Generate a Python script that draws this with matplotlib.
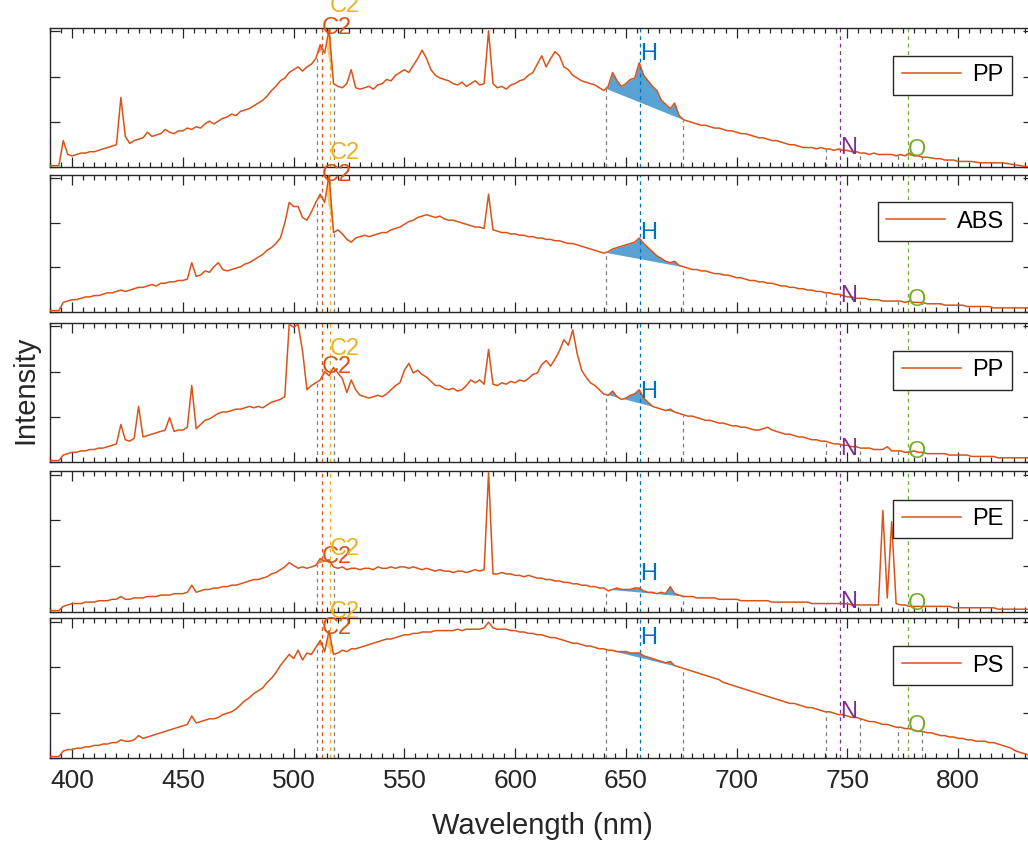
import numpy as np
import matplotlib.pyplot as plt
from matplotlib.ticker import MultipleLocator

plt.rcParams['font.family'] = ['Liberation Sans', 'DejaVu Sans']

# wavelength grid of the spectra (nm)
wavelength = np.arange(390, 834, 2)

# normalised intensities, one spectrum per panel (top to bottom)
spec_pp1 = [
    0.01, 0.01, 0.01, 0.19, 0.09, 0.08, 0.09, 0.10, 0.10, 0.11,
    0.11, 0.12, 0.13, 0.14, 0.15, 0.16, 0.50, 0.22, 0.17, 0.19,
    0.20, 0.21, 0.25, 0.22, 0.23, 0.24, 0.27, 0.25, 0.24, 0.26,
    0.26, 0.28, 0.27, 0.29, 0.28, 0.31, 0.33, 0.31, 0.33, 0.35,
    0.36, 0.38, 0.37, 0.40, 0.41, 0.42, 0.44, 0.46, 0.48, 0.51,
    0.55, 0.58, 0.62, 0.64, 0.68, 0.70, 0.72, 0.69, 0.72, 0.74,
    0.78, 0.88, 0.82, 0.99, 0.60, 0.58, 0.57, 0.60, 0.70, 0.57,
    0.56, 0.57, 0.58, 0.56, 0.59, 0.60, 0.63, 0.62, 0.66, 0.68,
    0.70, 0.68, 0.73, 0.78, 0.84, 0.78, 0.70, 0.66, 0.64, 0.63,
    0.62, 0.60, 0.59, 0.61, 0.58, 0.60, 0.62, 0.59, 0.60, 0.98,
    0.60, 0.57, 0.58, 0.56, 0.59, 0.60, 0.62, 0.63, 0.66, 0.68,
    0.74, 0.80, 0.72, 0.78, 0.83, 0.80, 0.72, 0.70, 0.66, 0.64,
    0.62, 0.61, 0.60, 0.59, 0.57, 0.55, 0.58, 0.68, 0.62, 0.58,
    0.60, 0.63, 0.64, 0.75, 0.66, 0.62, 0.58, 0.55, 0.48, 0.45,
    0.42, 0.46, 0.37, 0.34, 0.33, 0.32, 0.31, 0.30, 0.30, 0.29,
    0.28, 0.28, 0.27, 0.26, 0.26, 0.25, 0.24, 0.24, 0.23, 0.22,
    0.21, 0.21, 0.20, 0.19, 0.19, 0.18, 0.17, 0.16, 0.16, 0.15,
    0.14, 0.14, 0.14, 0.13, 0.14, 0.13, 0.13, 0.12, 0.13, 0.12,
    0.12, 0.11, 0.11, 0.10, 0.10, 0.09, 0.10, 0.09, 0.09, 0.09,
    0.09, 0.08, 0.09, 0.08, 0.10, 0.08, 0.08, 0.07, 0.07, 0.065,
    0.06, 0.06, 0.05, 0.05, 0.05, 0.04, 0.04, 0.04, 0.04, 0.035,
    0.03, 0.03, 0.03, 0.03, 0.03, 0.03, 0.025, 0.02, 0.015, 0.01,
    0.005, 0.0,
]
spec_abs = [
    0.01, 0.01, 0.01, 0.07, 0.08, 0.09, 0.09, 0.10, 0.11, 0.11,
    0.12, 0.12, 0.13, 0.14, 0.14, 0.15, 0.16, 0.15, 0.16, 0.17,
    0.18, 0.18, 0.19, 0.20, 0.19, 0.21, 0.21, 0.22, 0.22, 0.23,
    0.23, 0.24, 0.36, 0.26, 0.27, 0.30, 0.29, 0.33, 0.36, 0.31,
    0.30, 0.31, 0.32, 0.33, 0.35, 0.36, 0.38, 0.40, 0.42, 0.45,
    0.47, 0.50, 0.54, 0.65, 0.80, 0.77, 0.77, 0.69, 0.67, 0.73,
    0.80, 0.86, 0.80, 1.00, 0.58, 0.60, 0.57, 0.53, 0.51, 0.54,
    0.55, 0.56, 0.55, 0.56, 0.57, 0.58, 0.58, 0.60, 0.61, 0.62,
    0.64, 0.66, 0.67, 0.69, 0.70, 0.71, 0.70, 0.69, 0.70, 0.68,
    0.67, 0.67, 0.66, 0.65, 0.64, 0.63, 0.62, 0.62, 0.61, 0.86,
    0.60, 0.59, 0.58, 0.58, 0.57, 0.57, 0.56, 0.56, 0.55, 0.55,
    0.54, 0.54, 0.53, 0.53, 0.52, 0.52, 0.51, 0.50, 0.50, 0.49,
    0.48, 0.47, 0.46, 0.45, 0.44, 0.43, 0.44, 0.46, 0.47, 0.48,
    0.49, 0.50, 0.51, 0.54, 0.50, 0.47, 0.44, 0.41, 0.39, 0.37,
    0.36, 0.37, 0.34, 0.33, 0.32, 0.31, 0.31, 0.30, 0.30, 0.29,
    0.28, 0.28, 0.27, 0.27, 0.26, 0.25, 0.25, 0.24, 0.23, 0.23,
    0.22, 0.22, 0.21, 0.21, 0.20, 0.19, 0.19, 0.18, 0.18, 0.17,
    0.17, 0.16, 0.16, 0.15, 0.15, 0.14, 0.14, 0.13, 0.13, 0.12,
    0.11, 0.11, 0.10, 0.10, 0.10, 0.09, 0.09, 0.09, 0.08, 0.08,
    0.08, 0.08, 0.08, 0.07, 0.08, 0.07, 0.07, 0.07, 0.06, 0.06,
    0.06, 0.06, 0.05, 0.05, 0.05, 0.05, 0.05, 0.04, 0.04, 0.04,
    0.04, 0.04, 0.04, 0.03, 0.03, 0.03, 0.03, 0.03, 0.03, 0.03,
    0.03, 0.03,
]
spec_pp2 = [
    0.01, 0.01, 0.01, 0.05, 0.06, 0.07, 0.07, 0.08, 0.08, 0.09,
    0.09, 0.10, 0.10, 0.11, 0.12, 0.13, 0.27, 0.16, 0.15, 0.17,
    0.40, 0.18, 0.19, 0.20, 0.21, 0.22, 0.23, 0.32, 0.22, 0.23,
    0.23, 0.25, 0.55, 0.24, 0.27, 0.30, 0.31, 0.33, 0.35, 0.36,
    0.36, 0.37, 0.38, 0.38, 0.39, 0.40, 0.39, 0.40, 0.39, 0.41,
    0.43, 0.44, 0.45, 0.47, 0.99, 0.97, 0.99, 0.80, 0.52, 0.55,
    0.57, 0.59, 0.65, 0.62, 0.68, 0.64, 0.60, 0.50, 0.59, 0.52,
    0.48, 0.47, 0.46, 0.47, 0.48, 0.47, 0.49, 0.52, 0.55, 0.57,
    0.66, 0.71, 0.64, 0.66, 0.63, 0.61, 0.58, 0.55, 0.55, 0.53,
    0.52, 0.53, 0.51, 0.52, 0.55, 0.59, 0.57, 0.59, 0.56, 0.81,
    0.56, 0.55, 0.57, 0.56, 0.58, 0.57, 0.59, 0.58, 0.60, 0.63,
    0.64, 0.70, 0.73, 0.69, 0.74, 0.80, 0.88, 0.84, 0.95, 0.78,
    0.66, 0.61, 0.57, 0.55, 0.52, 0.49, 0.48, 0.51, 0.47, 0.45,
    0.46, 0.48, 0.49, 0.52, 0.46, 0.43, 0.40, 0.39, 0.38, 0.37,
    0.38, 0.36, 0.35, 0.34, 0.33, 0.33, 0.32, 0.31, 0.30, 0.30,
    0.29, 0.28, 0.28, 0.27, 0.26, 0.26, 0.25, 0.25, 0.24, 0.23,
    0.23, 0.24, 0.25, 0.23, 0.22, 0.21, 0.20, 0.20, 0.19, 0.18,
    0.18, 0.17, 0.16, 0.16, 0.15, 0.15, 0.14, 0.13, 0.13, 0.12,
    0.12, 0.11, 0.11, 0.10, 0.10, 0.10, 0.09, 0.09, 0.09, 0.11,
    0.08, 0.08, 0.08, 0.07, 0.07, 0.08, 0.07, 0.07, 0.06, 0.06,
    0.06, 0.06, 0.06, 0.05, 0.05, 0.05, 0.05, 0.05, 0.04, 0.04,
    0.04, 0.04, 0.04, 0.04, 0.03, 0.03, 0.03, 0.03, 0.03, 0.03,
    0.03, 0.03,
]
spec_pe = [
    0.01, 0.01, 0.01, 0.04, 0.05, 0.06, 0.06, 0.06, 0.07, 0.07,
    0.07, 0.08, 0.08, 0.08, 0.09, 0.09, 0.11, 0.09, 0.09, 0.10,
    0.10, 0.10, 0.11, 0.11, 0.11, 0.12, 0.12, 0.12, 0.13, 0.13,
    0.13, 0.14, 0.19, 0.14, 0.15, 0.16, 0.16, 0.17, 0.17, 0.18,
    0.18, 0.19, 0.19, 0.20, 0.21, 0.22, 0.23, 0.23, 0.24, 0.25,
    0.27, 0.28, 0.30, 0.32, 0.35, 0.33, 0.31, 0.32, 0.31, 0.32,
    0.33, 0.38, 0.36, 0.37, 0.32, 0.31, 0.32, 0.30, 0.31, 0.31,
    0.30, 0.31, 0.31, 0.30, 0.32, 0.31, 0.31, 0.32, 0.31, 0.32,
    0.32, 0.31, 0.32, 0.31, 0.30, 0.31, 0.30, 0.29, 0.30, 0.29,
    0.29, 0.28, 0.29, 0.29, 0.28, 0.29, 0.30, 0.29, 0.30, 0.99,
    0.27, 0.27, 0.28, 0.27, 0.27, 0.26, 0.26, 0.25, 0.26, 0.25,
    0.24, 0.24, 0.23, 0.23, 0.22, 0.22, 0.21, 0.21, 0.20, 0.20,
    0.19, 0.19, 0.18, 0.18, 0.17, 0.17, 0.15, 0.16, 0.17, 0.16,
    0.16, 0.16, 0.17, 0.17, 0.15, 0.14, 0.14, 0.13, 0.14, 0.13,
    0.18, 0.13, 0.12, 0.11, 0.11, 0.11, 0.10, 0.10, 0.10, 0.10,
    0.10, 0.09, 0.09, 0.09, 0.09, 0.09, 0.08, 0.08, 0.08, 0.08,
    0.08, 0.08, 0.08, 0.07, 0.07, 0.07, 0.07, 0.07, 0.07, 0.07,
    0.07, 0.07, 0.06, 0.06, 0.06, 0.06, 0.06, 0.06, 0.06, 0.06,
    0.06, 0.05, 0.05, 0.05, 0.05, 0.05, 0.05, 0.05, 0.72, 0.10,
    0.64, 0.06, 0.05, 0.05, 0.04, 0.04, 0.04, 0.04, 0.04, 0.04,
    0.04, 0.04, 0.04, 0.04, 0.03, 0.03, 0.03, 0.03, 0.03, 0.03,
    0.03, 0.03, 0.03, 0.03, 0.02, 0.02, 0.02, 0.02, 0.02, 0.02,
    0.02, 0.02,
]
spec_ps = [
    0.01, 0.01, 0.01, 0.05, 0.06, 0.06, 0.07, 0.07, 0.08, 0.08,
    0.09, 0.09, 0.10, 0.10, 0.11, 0.11, 0.13, 0.12, 0.12, 0.13,
    0.16, 0.14, 0.15, 0.16, 0.17, 0.18, 0.19, 0.20, 0.21, 0.22,
    0.23, 0.24, 0.30, 0.25, 0.26, 0.27, 0.28, 0.28, 0.29, 0.31,
    0.32, 0.33, 0.35, 0.38, 0.41, 0.43, 0.46, 0.48, 0.50, 0.54,
    0.57, 0.61, 0.66, 0.70, 0.74, 0.71, 0.77, 0.70, 0.75, 0.74,
    0.79, 0.84, 0.76, 0.91, 0.74, 0.75, 0.77, 0.76, 0.78, 0.78,
    0.79, 0.80, 0.81, 0.82, 0.83, 0.84, 0.85, 0.85, 0.86, 0.87,
    0.88, 0.88, 0.89, 0.89, 0.90, 0.90, 0.90, 0.91, 0.91, 0.91,
    0.91, 0.91, 0.92, 0.91, 0.92, 0.92, 0.92, 0.92, 0.93, 0.97,
    0.93, 0.92, 0.92, 0.92, 0.91, 0.91, 0.90, 0.90, 0.89, 0.89,
    0.88, 0.88, 0.87, 0.86, 0.86, 0.85, 0.84, 0.83, 0.82, 0.82,
    0.81, 0.80, 0.80, 0.79, 0.78, 0.78, 0.77, 0.77, 0.76, 0.76,
    0.76, 0.75, 0.75, 0.75, 0.73, 0.72, 0.71, 0.70, 0.69, 0.68,
    0.69, 0.66, 0.65, 0.64, 0.63, 0.62, 0.61, 0.60, 0.59, 0.58,
    0.57, 0.56, 0.54, 0.53, 0.52, 0.51, 0.50, 0.49, 0.48, 0.47,
    0.46, 0.45, 0.44, 0.43, 0.42, 0.41, 0.40, 0.39, 0.39, 0.38,
    0.37, 0.36, 0.36, 0.35, 0.34, 0.33, 0.33, 0.32, 0.31, 0.31,
    0.30, 0.29, 0.29, 0.28, 0.27, 0.26, 0.26, 0.25, 0.24, 0.24,
    0.23, 0.22, 0.22, 0.21, 0.21, 0.20, 0.19, 0.19, 0.18, 0.18,
    0.17, 0.16, 0.16, 0.15, 0.15, 0.14, 0.14, 0.13, 0.13, 0.12,
    0.12, 0.12, 0.11, 0.11, 0.10, 0.09, 0.08, 0.07, 0.05, 0.04,
    0.03, 0.02,
]

samples = ['PP', 'ABS', 'PP', 'PE', 'PS']
spectra = [spec_pp1, spec_abs, spec_pp2, spec_pe, spec_ps]

# emission lines
line_names = ['C2', 'C2', 'H', 'N', 'O']
line_centres = [512.9, 516.5, 656.3, 746.8, 777.4]
line_colors = ['#D95319', '#EDB120', '#0072BD', '#7E2F8E', '#77AC30']
line_windows = [(510.5, 514.6), (514.6, 518.0), (641.0, 676.0), (740.5, 755.5), (773.0, 783.5)]
window_edges = [510.5, 518.0, 641.0, 676.0, 740.5, 755.5, 773.0, 783.5]

# label heights per panel (rows: panels, cols: lines)
label_heights = [
    [1.00, 1.16, 0.81, 0.14, 0.12],
    [1.00, 1.16, 0.58, 0.12, 0.09],
    [0.68, 0.81, 0.50, 0.09, 0.07],
    [0.39, 0.45, 0.27, 0.07, 0.06],
    [0.93, 1.04, 0.86, 0.33, 0.23],
]

W, H = 1028, 843
fig = plt.figure(figsize=(W / 100, H / 100), dpi=100)

tops = [28, 175, 323, 471, 618]
bottoms = [167, 312, 462, 612, 758]
xmin, xmax = 390, 834
px_per_nm = 2.215
left_px = 50
width_px = (xmax - xmin) * px_per_nm
spine_col = '#262626'
spec_col = '#D95319'

for i in range(5):
    ax = fig.add_axes([left_px / W, 1 - bottoms[i] / H, width_px / W, (bottoms[i] - tops[i]) / H])
    spec = np.array(spectra[i])
    ax.plot(wavelength, spec, color=spec_col, lw=1.1, label=samples[i], zorder=3)

    # shaded peak areas above a straight baseline
    for (a, b), col in zip(line_windows, line_colors):
        xs = np.concatenate([[a], wavelength[(wavelength > a) & (wavelength < b)], [b]])
        ys = np.interp(xs, wavelength, spec)
        base = ys[0] + (ys[-1] - ys[0]) * (xs - a) / (b - a)
        ax.fill_between(xs, base, ys, where=ys >= base, interpolate=True,
                        color=col, alpha=0.65, lw=0, zorder=2)

    # grey window markers from zero to the spectrum
    for e in window_edges:
        ax.vlines(e, 0, np.interp(e, wavelength, spec), colors='#7f7f7f',
                  linestyles=(0, (3, 3)), lw=0.9, zorder=1)

    # element lines and labels
    for j, (nm, c, col) in enumerate(zip(line_names, line_centres, line_colors)):
        ax.axvline(c, color=col, ls=(0, (3, 3)), lw=0.9, zorder=1)
        ax.text(c, label_heights[i][j], nm, color=col, fontsize=17,
                ha='left', va='center', clip_on=False, zorder=5)

    ax.set_xlim(xmin, xmax)
    ax.set_ylim(0, 1)
    ax.set_yticks([0, 0.325, 0.65, 0.975])
    ax.set_yticklabels([])
    ax.xaxis.set_major_locator(MultipleLocator(50))
    ax.xaxis.set_minor_locator(MultipleLocator(5))
    ax.tick_params(which='both', direction='in', top=True, right=True,
                   color=spine_col, width=0.9)
    ax.tick_params(which='major', length=7)
    ax.tick_params(which='minor', length=3.5)
    ax.tick_params(axis='x', labelsize=19, labelcolor=spine_col, pad=8)
    for s in ax.spines.values():
        s.set_color(spine_col)
        s.set_linewidth(1.0)
    if i < 4:
        ax.set_xticklabels([])

    yc = 1 - (bottoms[i] - 0.66 * (bottoms[i] - tops[i])) / H
    leg = ax.legend(loc='center right', bbox_to_anchor=(1012 / W, yc),
                    bbox_transform=fig.transFigure, fontsize=17,
                    fancybox=False, framealpha=1, edgecolor=spine_col,
                    handlelength=2.5, borderpad=0.35, handletextpad=0.5,
                    borderaxespad=0)
    leg.get_frame().set_linewidth(1.0)

fig.text(25 / W, 1 - 390 / H, 'Intensity', rotation=90, ha='center', va='center',
         fontsize=21, color=spine_col)
fig.text(542 / W, 1 - 826 / H, 'Wavelength (nm)', ha='center', va='center',
         fontsize=21, color=spine_col)

fig.savefig('out.png', dpi=100)
